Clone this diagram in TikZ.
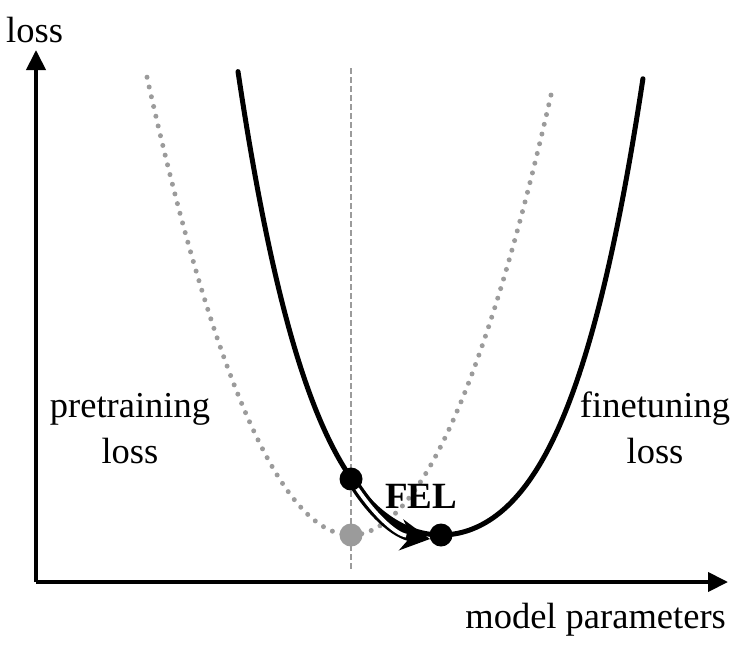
\documentclass[tikz,border=0pt]{standalone}
\usepackage{fontspec}
\setmainfont{Liberation Serif}
\usetikzlibrary{arrows.meta}
\definecolor{lightgr}{RGB}{155,155,155}
\tikzset{
  axis/.style={line width=4pt,-{Triangle[length=20pt,width=19pt]}},
  lbl/.style={inner sep=0pt,font=\fontsize{36.5}{46}\selectfont},
  dot/.style={circle,fill=black,inner sep=0pt,minimum size=23pt},
  graydot/.style={circle,fill=lightgr,inner sep=0pt,minimum size=23pt},
  dotcurve/.style={lightgr,line width=5pt,line cap=round,dash pattern=on 0pt off 10pt},
  mainlosscurve/.style={black,line width=5pt,line cap=round},
  guide/.style={lightgr,line width=1.5pt,dash pattern=on 6pt off 3pt},
}
\begin{document}
\begin{tikzpicture}[x=1pt,y=-1pt]
\useasboundingbox (0,0) rectangle (738,646);
% axes
\coordinate (O) at (36,582);
\coordinate (ytip) at (36,50);
\coordinate (xtip) at (728,582);
\draw[axis] (O) -- (ytip);
\draw[axis] (O) -- (xtip);
\node[lbl,anchor=base west] (ylab) at (6,42) {loss};
\node[lbl,anchor=base east] (xlab) at (726,628) {model parameters};
% guide line
\coordinate (gtop) at (351,68);
\coordinate (gbot) at (351,570);
\draw[guide] (gtop) -- (gbot);
% pretraining loss (dotted)
\draw[dotcurve] plot[domain=-2.04:2.01,samples=120,smooth] ({351+100*\x},{535-110*\x*\x});
% finetuning loss
\draw[mainlosscurve] plot[domain=-2.03:2.02,samples=120,smooth] ({441+100*\x},{535-60*\x*\x-12.73*\x*\x*\x*\x});
% points
\coordinate (A) at (351,479);
\coordinate (G) at (351,535);
\coordinate (B) at (441,535);
% FEL arrow
\draw[line width=10.5pt,-{Stealth[length=29pt,width=31pt,inset=10pt]}] (A) .. controls (371,512) and (395,534) .. ([xshift=-11pt,yshift=-4pt]B);
\draw[white,line width=3.8pt,shorten >=24pt] (A) .. controls (371,512) and (395,534) .. ([xshift=-11pt,yshift=-4pt]B);
\node[dot] (pA) at (A) {};
\node[graydot] (pG) at (G) {};
\node[dot] (pB) at (B) {};
\node[lbl,anchor=base,font=\fontsize{37}{46}\selectfont\bfseries] (fel) at (421,508) {FEL};
% curve labels
\node[lbl,anchor=base,align=center] (pre) at (130,463) {pretraining\\loss};
\node[lbl,anchor=base,align=center] (fin) at (655,463) {finetuning\\loss};
\end{tikzpicture}
\end{document}
